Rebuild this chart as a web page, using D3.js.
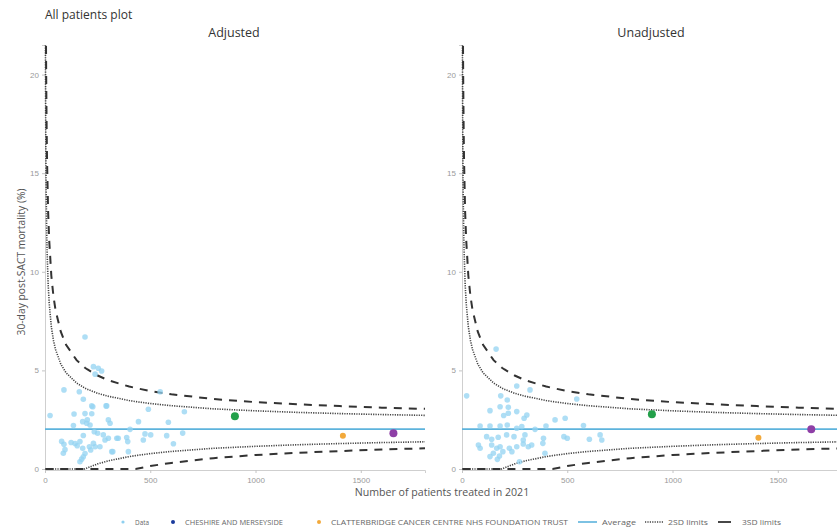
<!DOCTYPE html>
<html>
<head>
<meta charset="utf-8">
<script src="https://cdn.jsdelivr.net/npm/d3@7.9.0/dist/d3.min.js"></script>
<style>
  body { margin: 0; background: #fff; }
  svg { display: block; font-family: "Open Sans", "DejaVu Sans", sans-serif; }
  .tick text { fill: #9a9a9a; font-size: 8px; }
  .tick line { stroke: #c4c4c4; }
  .domain { stroke: #cfcfcf; }
</style>
</head>
<body>
<div id="chart"></div>
<script>
// 数据：每家医院的患者数和死亡率（%）
const adjustedN = [190, 230, 253, 238, 269, 90, 163, 182, 222, 290, 24, 138, 190, 222, 179, 201, 135, 214,
  301, 309, 444, 586, 491, 662, 547, 234, 250, 182, 277, 301, 285, 341, 388, 393, 475, 502, 467, 578, 610,
  654, 79, 90, 95, 87, 124, 143, 153, 166, 179, 190, 174, 182, 211, 230, 217, 261, 322, 396, 227, 293, 404,
  198, 348, 166, 238, 317];
const adjustedRate = [6.69, 5.19, 5.11, 4.81, 4.97, 4.01, 3.92, 3.54, 3.2, 3.2, 2.71, 2.79, 2.81, 2.8, 2.4, 2.49, 2.2, 2.23,
  2.49, 2.32, 2.4, 2.37, 3.03, 2.9, 3.92, 1.89, 1.81, 1.7, 1.73, 1.56, 1.47, 1.56, 1.6, 1.39, 1.78, 1.73, 1.47, 1.69, 1.28,
  1.82, 1.4, 1.25, 0.98, 0.8, 1.34, 1.29, 1.18, 1.39, 1.05, 0.78, 0.5, 0.62, 1.13, 1.3, 0.96, 1.13, 0.88, 0.88, 3.16, 3.2, 2.01,
  2.32, 1.56, 0.37, 1.13, 0.88];

const unadjustedN = [162, 22, 260, 323, 184, 215, 545, 133, 181, 220, 198, 220, 260, 295, 308, 442, 490, 577,
  86, 133, 181, 215, 260, 284, 347, 399, 117, 141, 172, 212, 247, 291, 299, 387, 384, 484, 500, 605, 656,
  664, 78, 86, 141, 165, 181, 194, 149, 225, 237, 260, 291, 315, 331, 178, 168, 394, 273, 133];
const unadjustedRate = [6.08, 3.71, 4.21, 4.01, 3.71, 3.5, 3.55, 2.96, 3.16, 3.13, 2.71, 2.83, 2.91, 2.57, 2.74, 2.49, 2.57, 2.2,
  2.18, 2.18, 2.18, 2.23, 2.07, 2.15, 2.01, 2.18, 1.64, 1.51, 1.61, 1.73, 1.64, 1.47, 1.73, 1.56, 1.3, 1.64, 1.56, 1.51, 1.73,
  1.47, 1.22, 1.05, 1.22, 1.05, 1.13, 0.88, 0.8, 1.05, 0.88, 1.13, 1.27, 1.13, 1.22, 0.66, 0.49, 0.8, 0.37, 0.63];

// 高亮的三家（绿、橙、紫）
const highlightColors = ["#23a04a", "#f2a93b", "#8e3fa6"];
const adjustedHighN = [902, 1415, 1655];
const adjustedHighRate = [2.68, 1.69, 1.81];
const unadjustedHighN = [902, 1408, 1659];
const unadjustedHighRate = [2.78, 1.59, 2.01];

// 平均线 + funnel 控制限（从图上读出来的）
const average = 2.02;
const limitN = [2, 3, 4, 5, 6, 8, 10, 15, 20, 30, 40, 50, 75, 100, 150, 190, 200, 250, 300, 400, 430, 500, 600,
  800, 1000, 1200, 1400, 1600, 1805];
const upper2 = [22.1, 18.4, 16.2, 14.7, 13.6, 12.1, 11.0, 9.37, 8.39, 7.22, 6.53, 6.06, 5.32, 4.88, 4.36, 4.1,
  4.05, 3.84, 3.69, 3.47, 3.42, 3.32, 3.21, 3.05, 2.95, 2.87, 2.81, 2.76, 2.72];
const upper3 = [32.1, 26.6, 23.3, 21.1, 19.4, 17.1, 15.5, 13.0, 11.6, 9.81, 8.77, 8.06, 6.96, 6.30, 5.52, 5.13,
  5.06, 4.74, 4.50, 4.18, 4.11, 3.95, 3.79, 3.55, 3.39, 3.28, 3.19, 3.11, 3.05];
const lower2 = [0, 0, 0, 0, 0, 0, 0, 0, 0, 0, 0, 0, 0, 0, 0, 0, 0.05, 0.26, 0.41, 0.63, 0.68, 0.78, 0.89,
  1.05, 1.15, 1.23, 1.29, 1.34, 1.38];
const lower3 = [0, 0, 0, 0, 0, 0, 0, 0, 0, 0, 0, 0, 0, 0, 0, 0, 0, 0, 0, 0, 0, 0.15, 0.31,
  0.55, 0.71, 0.82, 0.91, 0.99, 1.05];

const xTicks = [0, 500, 1000, 1500];
const yTicks = [0, 5, 10, 15, 20];

const legendItems = [
  { label: "Data", kind: "dot", color: "#8fd0f0", x: 123, w: 14 },
  { label: "CHESHIRE AND MERSEYSIDE", kind: "dot", color: "#1a3a9c", x: 173, w: 98 },
  { label: "CLATTERBRIDGE CANCER CENTRE NHS FOUNDATION TRUST", kind: "dot", color: "#f2a93b", x: 319, w: 237 },
  { label: "Average", kind: "line", x: 578, w: 34 },
  { label: "2SD limits", kind: "dot2", x: 645, w: 40 },
  { label: "3SD limits", kind: "dash3", x: 718, w: 39 },
];

const width = 837;
const height = 531;
const plotTop = 45, plotBottom = 469;

const svg = d3.select("#chart").append("svg")
  .attr("width", width).attr("height", height);

svg.append("text").attr("x", 45).attr("y", 19)
  .attr("font-size", 12).attr("fill", "#333").text("All patients plot");

const yScale = d3.scaleLinear().domain([0, 21.5]).range([plotBottom, plotTop]);

function drawPanel(x0, x1, title, ns, rates, highN, highRate, id) {
  const xScale = d3.scaleLinear().domain([0, 1805]).range([x0, x1]);
  const g = svg.append("g");

  g.append("clipPath").attr("id", "clip" + id)
    .append("rect").attr("x", x0 - 2).attr("y", plotTop).attr("width", x1 - x0 + 4).attr("height", plotBottom - plotTop + 2);

  g.append("text").attr("x", (x0 + x1) / 2 - 1).attr("y", 37).attr("text-anchor", "middle")
    .attr("font-size", 12.5).attr("fill", "#333").text(title);

  g.append("g").attr("transform", `translate(0,${plotBottom + 1})`)
    .call(d3.axisBottom(xScale).tickValues(xTicks).tickFormat(d3.format("d")).tickSize(3).tickPadding(4));
  g.append("g").attr("transform", `translate(${x0},0)`)
    .call(d3.axisLeft(yScale).tickValues(yTicks).tickSize(3).tickPadding(3));

  const plot = g.append("g").attr("clip-path", `url(#clip${id})`);

  // 平均线
  plot.append("line")
    .attr("x1", x0).attr("x2", x1)
    .attr("y1", yScale(average)).attr("y2", yScale(average))
    .attr("stroke", "#5db3dc").attr("stroke-width", 1.6);

  const line = (vals) => d3.line()
    .x((d, i) => xScale(limitN[i]))
    .y((d) => yScale(d))(vals);

  [upper2, lower2].forEach((vals) => {
    plot.append("path").attr("d", line(vals)).attr("fill", "none")
      .attr("stroke", "#444").attr("stroke-width", 1.6).attr("stroke-dasharray", "1.2,1.2");
  });
  [upper3, lower3].forEach((vals) => {
    plot.append("path").attr("d", line(vals)).attr("fill", "none")
      .attr("stroke", "#333").attr("stroke-width", 2).attr("stroke-dasharray", "8,7");
  });

  plot.append("g").selectAll("circle")
    .data(ns)
    .join("circle")
    .attr("cx", (d) => xScale(d))
    .attr("cy", (d, i) => yScale(rates[i]))
    .attr("r", 2.8)
    .attr("fill", "#93d3f1")
    .attr("fill-opacity", 0.75);

  plot.append("g").selectAll("circle")
    .data(highN)
    .join("circle")
    .attr("cx", (d) => xScale(d))
    .attr("cy", (d, i) => yScale(highRate[i]))
    .attr("r", (d, i) => (i === 1 ? 3 : 4))
    .attr("fill", (d, i) => highlightColors[i]);
}

drawPanel(45, 425, "Adjusted", adjustedN, adjustedRate, adjustedHighN, adjustedHighRate, "a");
drawPanel(462, 842, "Unadjusted", unadjustedN, unadjustedRate, unadjustedHighN, unadjustedHighRate, "u");

// 轴标题
svg.append("text")
  .attr("transform", `translate(25,${(plotTop + plotBottom) / 2 + 5}) rotate(-90)`)
  .attr("text-anchor", "middle").attr("font-size", 10.3).attr("fill", "#555")
  .text("30-day post-SACT mortality (%)");

svg.append("text").attr("x", 442).attr("y", 496).attr("text-anchor", "middle")
  .attr("font-size", 10.6).attr("fill", "#555").text("Number of patients treated in 2021");

// 图例
const lg = svg.append("g").attr("transform", "translate(0,522)");
legendItems.forEach((d) => {
  let tx = d.x + 12;
  if (d.kind === "dot") {
    lg.append("circle").attr("cx", d.x).attr("cy", 0).attr("r", d.label === "Data" ? 1.6 : 2).attr("fill", d.color);
  } else if (d.kind === "line") {
    lg.append("line").attr("x1", d.x).attr("x2", d.x + 19).attr("y1", 0).attr("y2", 0)
      .attr("stroke", "#5db3dc").attr("stroke-width", 1.6);
    tx = d.x + 24;
  } else if (d.kind === "dot2") {
    lg.append("line").attr("x1", d.x).attr("x2", d.x + 18).attr("y1", 0).attr("y2", 0)
      .attr("stroke", "#444").attr("stroke-width", 1.3).attr("stroke-dasharray", "1.2,1.2");
    tx = d.x + 23;
  } else {
    lg.append("line").attr("x1", d.x).attr("x2", d.x + 13).attr("y1", 0).attr("y2", 0)
      .attr("stroke", "#333").attr("stroke-width", 1.8);
    tx = d.x + 24;
  }
  lg.append("text").attr("x", tx).attr("y", 2.5)
    .attr("font-size", 6.5).attr("fill", "#666")
    .attr("textLength", d.w).attr("lengthAdjust", "spacingAndGlyphs")
    .text(d.label);
});
</script>
</body>
</html>
